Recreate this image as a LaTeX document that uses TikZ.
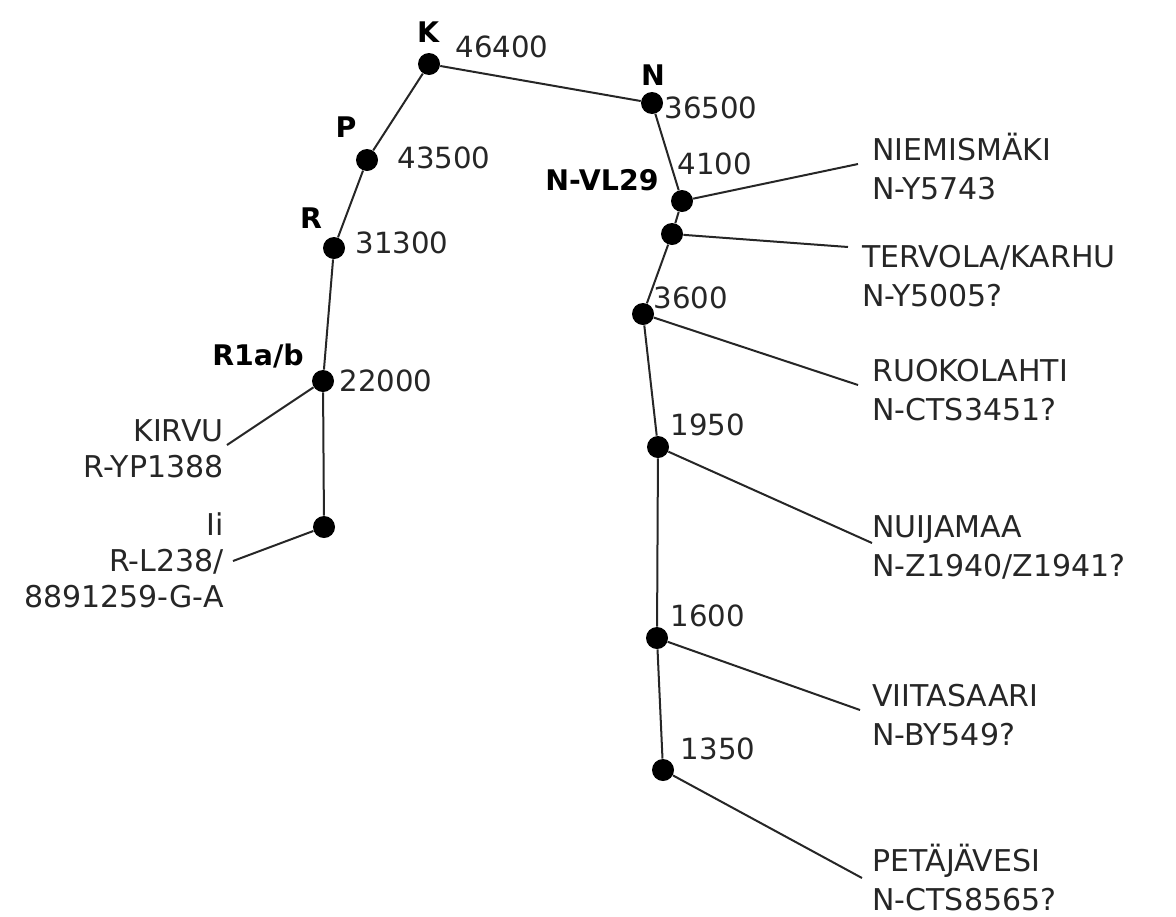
\documentclass[tikz,border=0pt]{standalone}
\usepackage{fontspec}
\setmainfont{DejaVu Sans}
\begin{document}
\begin{tikzpicture}[x=0.5pt,y=-0.5pt,
  dot/.style={circle,fill=black,inner sep=0pt,minimum size=11pt},
  edge/.style={draw=black!85,line width=1pt},
  num/.style={font=\fontsize{14.6}{20}\selectfont,text=black!85,inner sep=0pt},
  hap/.style={font=\fontsize{14.2}{20}\selectfont\bfseries,text=black,inner sep=0pt},
  place/.style={font=\fontsize{15}{19.5}\selectfont,text=black!85,inner sep=0pt,align=left,anchor=west},
  placel/.style={font=\fontsize{15}{18}\selectfont,text=black!85,inner sep=0pt,align=right,anchor=east}]
\useasboundingbox (0,0) rectangle (1176,916);
% tree nodes
\node[dot] (K) at (429,64) {};
\node[dot] (N) at (652,103) {};
\node[dot] (P) at (367,160) {};
\node[dot] (R) at (334,248) {};
\node[dot] (R1) at (323,381) {};
\node[dot] (Ii) at (324,527) {};
\node[dot] (VL) at (682,201) {};
\node[dot] (TK) at (672,234) {};
\node[dot] (n36) at (643,314) {};
\node[dot] (n19) at (658,447) {};
\node[dot] (n16) at (657,638) {};
\node[dot] (n13) at (663,770) {};
% branch ends
\coordinate (eNiem) at (858,164);
\coordinate (eTerv) at (848,247);
\coordinate (eRuok) at (858,385);
\coordinate (eNuij) at (872,543);
\coordinate (eViit) at (860,710);
\coordinate (ePeta) at (862,878);
\coordinate (eKirv) at (227,445);
\coordinate (eIi) at (233,561);
% connectors
\draw[edge] (K) -- (P) -- (R) -- (R1) -- (Ii);
\draw[edge] (K) -- (N) -- (VL) -- (TK) -- (n36) -- (n19) -- (n16) -- (n13);
\draw[edge] (VL) -- (eNiem);
\draw[edge] (TK) -- (eTerv);
\draw[edge] (n36) -- (eRuok);
\draw[edge] (n19) -- (eNuij);
\draw[edge] (n16) -- (eViit);
\draw[edge] (n13) -- (ePeta);
\draw[edge] (R1) -- (eKirv);
\draw[edge] (Ii) -- (eIi);
% haplogroup labels
\node[hap] (lK) at (428,32) {K};
\node[hap] (lN) at (653,75) {N};
\node[hap] (lP) at (346,127) {P};
\node[hap] (lR) at (311,218) {R};
\node[hap] (lR1) at (258,356) {R1a/b};
\node[hap] (lVL) at (602,180) {N-VL29};
% ages
\node[num] (a1) at (502,47) {46400};
\node[num] (a2) at (711,108) {36500};
\node[num] (a3) at (444,158) {43500};
\node[num] (a4) at (402,243) {31300};
\node[num] (a5) at (386,381) {22000};
\node[num] (a6) at (715,164) {4100};
\node[num] (a7) at (691,298) {3600};
\node[num] (a8) at (708,425) {1950};
\node[num] (a9) at (708,616) {1600};
\node[num] (a10) at (718,749) {1350};
% places
\node[place] (pNiem) at (872,167) {NIEMISMÄKI\\N-Y5743};
\node[place] (pTerv) at (862,276) {TERVOLA/KARHU\\N-Y5005?};
\node[place] (pRuok) at (872,390) {RUOKOLAHTI\\N-CTS3451?};
\node[place] (pNuij) at (872,547) {NUIJAMAA\\N-Z1940/Z1941?};
\node[place] (pViit) at (872,715) {VIITASAARI\\N-BY549?};
\node[place] (pPeta) at (872,877) {PETÄJÄVESI\\N-CTS8565?};
\node[placel] (pKirv) at (224,449) {KIRVU\\R-YP1388};
\node[placel] (pIi) at (224,560) {Ii\\R-L238/\\8891259-G-A};
\end{tikzpicture}
\end{document}
